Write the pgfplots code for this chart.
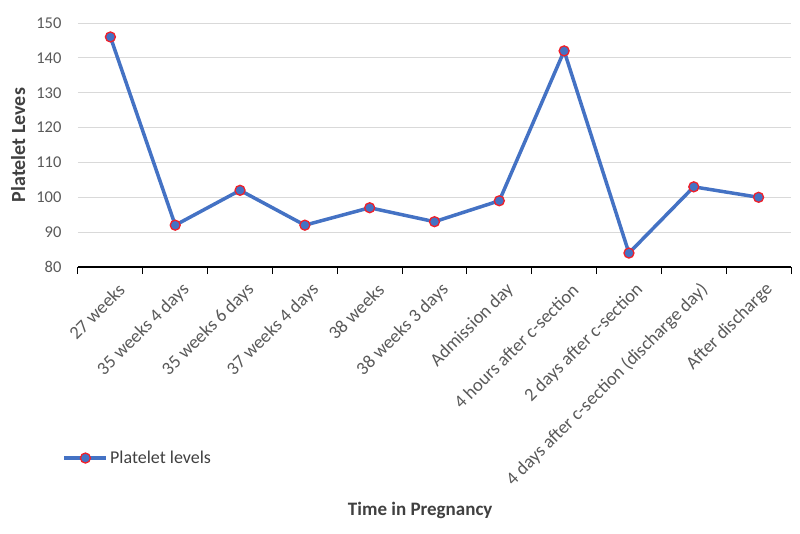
\documentclass[border=0pt]{standalone}
\usepackage{fontspec}
\setmainfont{Carlito}
\usepackage{pgfplots}
\pgfplotsset{compat=1.18}
\definecolor{lineblue}{HTML}{4472C4}
\definecolor{mkred}{HTML}{F0202A}
\definecolor{tickgray}{HTML}{595959}
\definecolor{labgray}{HTML}{404040}
\definecolor{gridgray}{HTML}{D9D9D9}
\begin{document}
\begin{tikzpicture}
\path[use as bounding box] (-78pt,-266pt) rectangle (722pt,267pt);
\begin{axis}[
  scale only axis,
  width=713pt, height=244pt,
  xmin=-0.5, xmax=10.5,
  ymin=80, ymax=150,
  ytick={80,90,...,150},
  xtick={0,...,10},
  xticklabels={27 weeks,35 weeks 4 days,35 weeks 6 days,37 weeks 4 days,38 weeks,38 weeks 3 days,Admission day,4 hours after c-section,2 days after c-section,4 days after c-section (discharge day),After discharge},
  x tick label style={rotate=45, anchor=east, font=\fontsize{18.5}{20}\selectfont, text=tickgray, inner sep=2pt, yshift=-22pt, xshift=-4pt},
  y tick label style={font=\fontsize{16.5}{19}\selectfont, text=tickgray, xshift=-13pt},
  /pgf/number format/assume math mode=true,
  axis x line=bottom,
  axis y line=left,
  x axis line style={-, black, line width=1.2pt},
  y axis line style={draw=none},
  major tick length=0pt,
  extra x ticks={-0.5,0.5,...,10.5},
  extra x tick labels={},
  extra x tick style={major tick length=7pt, tick align=outside, tick style={black, line width=1pt}, grid=none},
  ymajorgrids,
  grid style={gridgray, line width=1pt},
  clip=false,
  legend style={draw=none, fill=none, at={(axis description cs:-0.026,-0.783)}, anchor=west, font=\fontsize{18}{20}\selectfont, text=labgray},
  legend image code/.code={\draw[mark repeat=2,mark phase=2,#1] plot coordinates {(0pt,0pt) (21pt,0pt) (42pt,0pt)};},
]
\addplot[color=lineblue, line width=3.5pt, mark=*, mark size=5pt, mark options={fill=lineblue, draw=mkred, line width=1.3pt}]
  coordinates {(0,146) (1,92) (2,102) (3,92) (4,97) (5,93) (6,99) (7,142) (8,84) (9,103) (10,100)};
\addlegendentry{Platelet levels}
\node[rotate=90, font=\bfseries\fontsize{20}{22}\selectfont, text=labgray] at (axis description cs:-0.084,0.5) {Platelet Leves};
\node[font=\bfseries\fontsize{19}{21}\selectfont, text=labgray] at (axis description cs:0.48,-0.996) {Time in Pregnancy};
\end{axis}
\end{tikzpicture}
\end{document}
